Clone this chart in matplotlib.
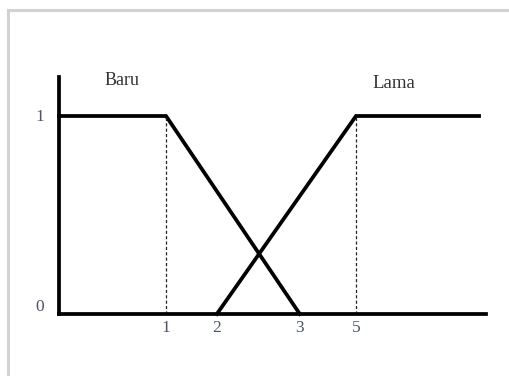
import matplotlib
matplotlib.use('Agg')
from matplotlib import pyplot as plt
from matplotlib import transforms
from matplotlib.lines import Line2D

# breakpoints of the membership functions (labels as shown on the x axis)
tick_values = [1, 2, 3, 5]
# the drawing is schematic, so each label sits at its own place on the axis
tick_positions = [2.0, 2.95, 4.5, 5.55]
x_end = 7.85
x_axis_end = 7.98

baru_x = [0, 1, 3]
baru_y = [1, 1, 0]
lama_x = [2, 5, 'end']
lama_y = [0, 1, 1]

y_ticks = [0, 1]
y_top = 1.197


def to_pos(v):
    if v == 'end':
        return x_end
    if v == 0:
        return 0.0
    return tick_positions[tick_values.index(v)]


plt.rcParams['font.family'] = ['Liberation Serif', 'DejaVu Serif']

fig = plt.figure(figsize=(5.09, 3.76), dpi=100)
ax = fig.add_axes([59 / 509, 62 / 376, 427 / 509, 237 / 376])
ax.set_xlim(0, x_axis_end)
ax.set_ylim(0, y_top)

line_color = '#000000'
ax.plot([to_pos(v) for v in baru_x], baru_y, color=line_color, lw=2.7,
        solid_joinstyle='miter', clip_on=False)
ax.plot([to_pos(v) for v in lama_x], lama_y, color=line_color, lw=2.7,
        solid_joinstyle='miter', clip_on=False)

# dashed guides from the corners down to the axis
for v in [1, 5]:
    ax.plot([to_pos(v), to_pos(v)], [0, 1], color='#222222', lw=0.9,
            linestyle=(0, (2.5, 1.8)))

for side in ['top', 'right']:
    ax.spines[side].set_visible(False)
for side in ['left', 'bottom']:
    ax.spines[side].set_linewidth(2.7)
    ax.spines[side].set_color('black')
    ax.spines[side].set_capstyle('projecting')

tick_color = '#4d5468'
ax.set_xticks(tick_positions)
ax.set_xticklabels([str(v) for v in tick_values])
ax.tick_params(axis='x', length=0, pad=4, labelsize=12.5, labelcolor=tick_color)
ax.set_yticks([])

# y labels placed by hand: the "0" sits a little above the axis line
ylab_tr = transforms.blended_transform_factory(ax.transAxes, ax.transData)
for v in y_ticks:
    off = transforms.ScaledTranslation(-11 / 72, (5 / 72) if v == 0 else -1 / 72,
                                       fig.dpi_scale_trans)
    ax.text(0, v, str(v), ha='right', va='center', fontsize=12.5,
            color=tick_color, transform=ylab_tr + off)

ax.text(1.18, 1.18, 'Baru', ha='center', va='center', fontsize=13, color='#333333')
ax.text(6.25, 1.165, 'Lama', ha='center', va='center', fontsize=13.5, color='#333333')

# light grey frame around the picture (top and left edges visible)
frame = dict(color='#d2d2d2', lw=2.2, transform=fig.transFigure)
fig.add_artist(Line2D([8 / 509, 1.0], [1 - 10 / 376, 1 - 10 / 376], **frame))
fig.add_artist(Line2D([8 / 509, 8 / 509], [0.0, 1 - 10 / 376], **frame))

fig.savefig('out.png', dpi=100)
